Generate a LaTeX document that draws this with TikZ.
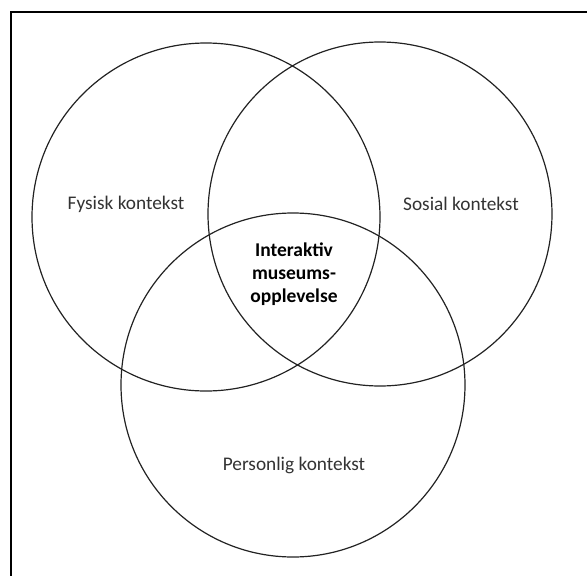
\documentclass[tikz,border=0pt]{standalone}
\usepackage{fontspec}
\setmainfont{Carlito}
\definecolor{ink}{HTML}{222222}
\definecolor{txt}{HTML}{333333}

\begin{document}
\begin{tikzpicture}[x=1pt, y=-1pt,
    ring/.style={draw=ink, line width=1.2pt, circle, inner sep=0pt, minimum size=#1},
    ctx/.style={font=\fontsize{19.3}{23}\selectfont, text=txt, align=center},
    core/.style={font=\fontsize{19.5}{23}\selectfont\bfseries, text=black, align=center},
]
\useasboundingbox (0, 0) rectangle (587, 576);
\clip (0, 0) rectangle (587, 576);

% -- frame --
\draw[line width=2pt] (11, 12) rectangle (600, 600);

% -- circles --
\node[ring=348pt] (fysisk) at (206, 217) {};
\node[ring=344pt] (sosial) at (380, 214) {};
\node[ring=344pt] (personlig) at (293, 385) {};

% -- labels --
\node[ctx] (lfysisk) at (126, 204) {Fysisk kontekst};
\node[ctx] (lsosial) at (461, 204) {Sosial kontekst};
\node[ctx] (lpersonlig) at (294, 465) {Personlig kontekst};
\node[core] (lcore) at (294, 274) {Interaktiv\\museums-\\opplevelse};

\end{tikzpicture}
\end{document}
